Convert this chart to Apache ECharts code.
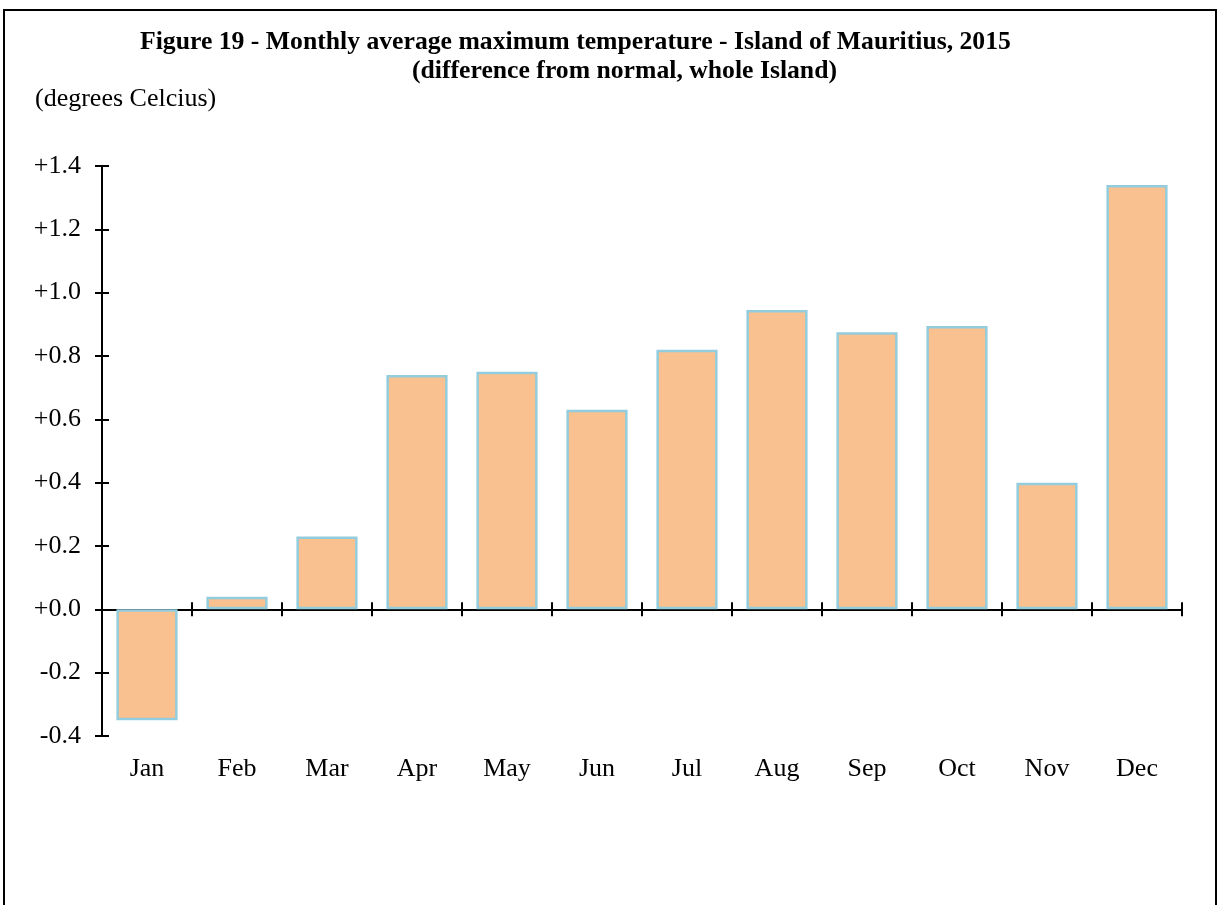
<!DOCTYPE html>
<html>
<head>
<meta charset="utf-8">
<script src="https://cdn.jsdelivr.net/npm/echarts@6/dist/echarts.min.js"></script>
<style>
  body { margin: 0; background: #fff; }
  #myChart { width: 1219px; height: 905px; }
</style>
</head>
<body>
<div id="myChart"></div>
<script>
  // data
  var months = ['Jan', 'Feb', 'Mar', 'Apr', 'May', 'Jun', 'Jul', 'Aug', 'Sep', 'Oct', 'Nov', 'Dec']
  var tempDiff = [-0.35, 0.04, 0.23, 0.74, 0.75, 0.63, 0.82, 0.945, 0.875, 0.895, 0.40, 1.34]
  var yMin = -0.4
  var yMax = 1.4
  var yStep = 0.2

  var serif = '"Liberation Serif", "Times New Roman", serif'

  function fmtTick(v) {
    if (Math.abs(v) < 1e-9) return '+0.0'
    return (v > 0 ? '+' : '') + v.toFixed(1)
  }

  var myChart = echarts.init(document.getElementById('myChart'))
  myChart.setOption({
    backgroundColor: '#fff',
    animation: false,
    title: [
      {
        text: 'Figure 19 - Monthly average maximum temperature - Island of Mauritius, 2015',
        left: 140,
        top: 29,
        padding: 0,
        textStyle: { fontFamily: serif, fontWeight: 'bold', fontSize: 25.7, color: '#000' }
      },
      {
        text: '(difference from normal, whole Island)',
        left: 412,
        top: 58,
        padding: 0,
        textStyle: { fontFamily: serif, fontWeight: 'bold', fontSize: 25.7, color: '#000' }
      },
      {
        text: '(degrees Celcius)',
        left: 35,
        top: 86,
        padding: 0,
        textStyle: { fontFamily: serif, fontWeight: 'normal', fontSize: 26, color: '#000' }
      }
    ],
    graphic: [
      {
        // outer frame of the figure
        type: 'rect',
        shape: { x: 4, y: 10, width: 1212, height: 1000 },
        style: { fill: 'none', stroke: '#000', lineWidth: 2 },
        silent: true
      }
    ],
    grid: { left: 102, right: 37, top: 166, bottom: 169 },
    xAxis: [
      {
        // zero line, ticks below
        type: 'category',
        data: months,
        axisLine: { show: true, onZero: true, onZeroAxisIndex: 0, lineStyle: { color: '#000', width: 2 } },
        axisTick: { show: true, inside: false, length: 7, lineStyle: { color: '#000', width: 2 } },
        axisLabel: { show: false },
        splitLine: { show: false }
      },
      {
        // same line, ticks above
        type: 'category',
        data: months,
        position: 'bottom',
        axisLine: { show: true, onZero: true, onZeroAxisIndex: 0, lineStyle: { color: '#000', width: 2 } },
        axisTick: { show: true, inside: true, length: 7, lineStyle: { color: '#000', width: 2 } },
        axisLabel: { show: false },
        splitLine: { show: false }
      },
      {
        // month labels at the bottom
        type: 'category',
        data: months,
        position: 'bottom',
        axisLine: { show: false, onZero: false },
        axisTick: { show: false },
        axisLabel: { show: true, margin: 20, fontFamily: serif, fontSize: 26, color: '#000' },
        splitLine: { show: false }
      }
    ],
    yAxis: [
      {
        type: 'value',
        position: 'left',
        min: yMin,
        max: yMax,
        interval: yStep,
        axisLine: { show: true, onZero: false, lineStyle: { color: '#000', width: 2 } },
        axisTick: { show: true, inside: false, length: 7, lineStyle: { color: '#000', width: 2 } },
        axisLabel: { margin: 21, formatter: fmtTick, fontFamily: serif, fontSize: 26, color: '#000' },
        splitLine: { show: false }
      },
      {
        type: 'value',
        position: 'left',
        min: yMin,
        max: yMax,
        interval: yStep,
        axisLine: { show: true, onZero: false, lineStyle: { color: '#000', width: 2 } },
        axisTick: { show: true, inside: true, length: 7, lineStyle: { color: '#000', width: 2 } },
        axisLabel: { show: false },
        splitLine: { show: false }
      }
    ],
    series: [
      {
        name: 'difference',
        type: 'bar',
        xAxisIndex: 0,
        yAxisIndex: 0,
        data: tempDiff,
        barCategoryGap: '32%',
        itemStyle: {
          color: '#F9C18F',
          borderColor: '#93CDDD',
          borderWidth: 2.5
        }
      }
    ]
  })
</script>
</body>
</html>
